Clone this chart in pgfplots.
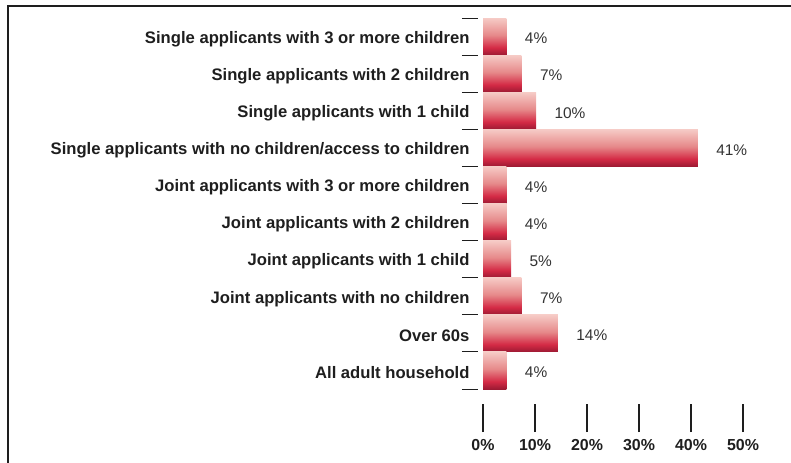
\documentclass[border=0pt]{standalone}
\usepackage{fontspec}
\setmainfont{Liberation Sans}
\usepackage{pgfplots}
\pgfplotsset{compat=1.18}
\definecolor{cdark}{HTML}{9C1A33}
\definecolor{cred}{HTML}{D42A45}
\definecolor{cmid}{HTML}{E6898A}
\definecolor{clight}{HTML}{F6CBC6}
\definecolor{txt}{HTML}{1E1E1E}
\definecolor{vtxt}{HTML}{333333}
\pgfdeclareverticalshading{barshade}{100bp}{color(0bp)=(cdark); color(25bp)=(cdark); color(35bp)=(cred); color(52bp)=(cmid); color(75bp)=(clight); color(100bp)=(clight)}
\pgfplotsset{mybar/.style={xbar, bar width=1, bar shift=0pt, draw=none, shading=barshade}}
\begin{document}
\begin{tikzpicture}
\useasboundingbox (0,0) rectangle (791bp,-463bp);
\draw[line width=1.8bp, color=txt] (8bp,-463bp) -- (8bp,-6bp) -- (791bp,-6bp);
\begin{axis}[
  at={(483bp,-389bp)}, anchor=south west,
  scale only axis, width=260bp, height=371bp,
  xmin=0, xmax=50, ymin=-0.5, ymax=9.5,
  y dir=reverse,
  axis lines*=left,
  axis line style={draw=none},
  xtick={0,10,20,30,40,50},
  xticklabels={0\%,10\%,20\%,30\%,40\%,50\%},
  ytick={0,...,9},
  minor ytick={-0.5,0.5,1.5,2.5,3.5,4.5,5.5,6.5,7.5,8.5,9.5},
  yticklabels={Single applicants with 3 or more children,Single applicants with 2 children,Single applicants with 1 child,Single applicants with no children/access to children,Joint applicants with 3 or more children,Joint applicants with 2 children,Joint applicants with 1 child,Joint applicants with no children,Over 60s,All adult household},
  /pgf/number format/assume math mode=true,
  tick align=outside,
  major tick length=28bp,
  minor tick length=16bp,
  x tick style={draw=txt, line width=1.2bp, yshift=-15bp},
  major y tick style={draw=none},
  minor y tick style={draw=txt, line width=1bp, xshift=-5bp},
  xticklabel style={font=\fontsize{16}{19}\selectfont\bfseries, text=txt, yshift=-19bp},
  yticklabel style={font=\fontsize{16.7}{19}\selectfont\bfseries, text=txt, xshift=18bp, yshift=-2.5bp},
  nodes near coords,
  point meta=explicit symbolic,
  every node near coord/.append style={font=\fontsize{15.5}{18}\selectfont, text=vtxt, anchor=west, xshift=15bp, yshift=-2bp},
  clip=false,
]
\addplot[mybar] coordinates {(4.5,0) [4\%]};
\addplot[mybar] coordinates {(7.4,1) [7\%]};
\addplot[mybar] coordinates {(10.2,2) [10\%]};
\addplot[mybar] coordinates {(41.3,3) [41\%]};
\addplot[mybar] coordinates {(4.5,4) [4\%]};
\addplot[mybar] coordinates {(4.5,5) [4\%]};
\addplot[mybar] coordinates {(5.4,6) [5\%]};
\addplot[mybar] coordinates {(7.4,7) [7\%]};
\addplot[mybar] coordinates {(14.4,8) [14\%]};
\addplot[mybar] coordinates {(4.5,9) [4\%]};
\end{axis}
\end{tikzpicture}
\end{document}
